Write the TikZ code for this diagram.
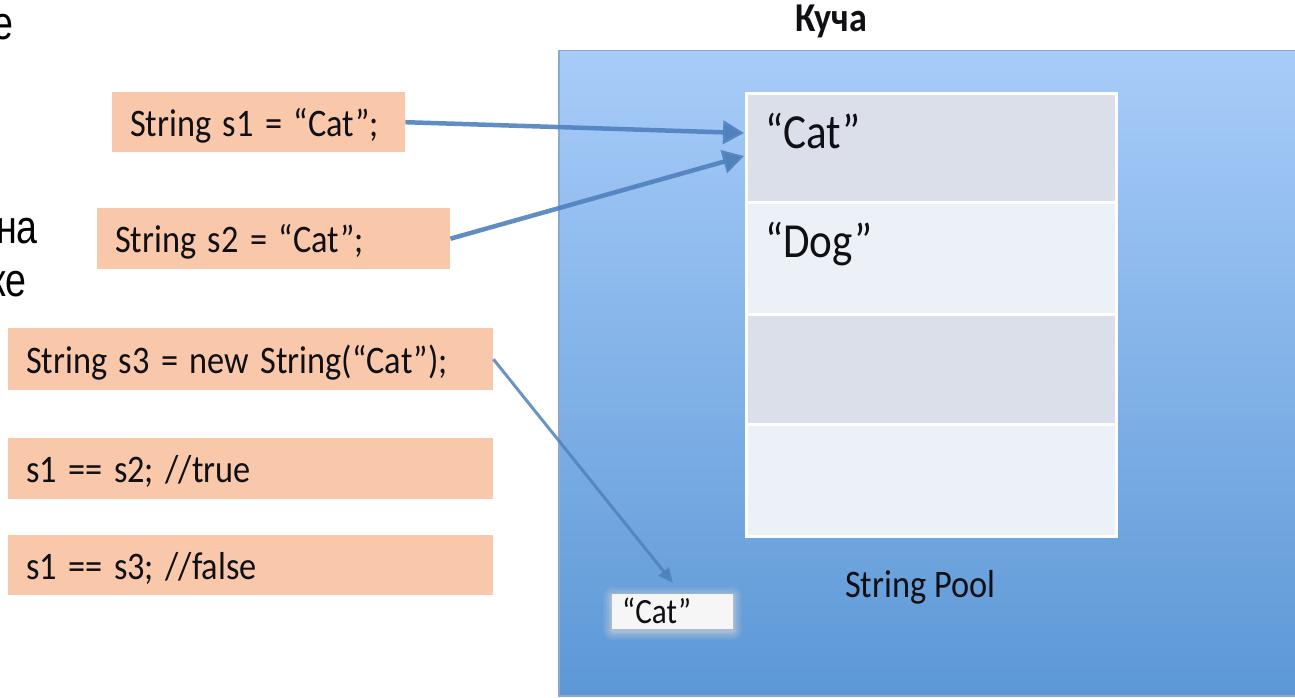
\documentclass[tikz,border=0pt]{standalone}
\usepackage{fontspec}
\setmainfont{Carlito}
\newfontfamily\arialf{Liberation Sans}
\usetikzlibrary{arrows.meta}
\definecolor{peach}{RGB}{249,200,170}
\definecolor{heaptop}{RGB}{168,204,249}
\definecolor{heapbot}{RGB}{92,152,214}
\definecolor{heapedge}{RGB}{140,168,205}
\definecolor{rowdark}{RGB}{218,223,234}
\definecolor{rowlight}{RGB}{236,240,247}
\definecolor{arrowblue}{RGB}{79,129,189}
\definecolor{smallbox}{RGB}{246,246,246}
\definecolor{glowgray}{RGB}{200,205,212}
\definecolor{inktext}{RGB}{15,15,20}
\newcommand\sq[1]{\scalebox{0.88}[1]{#1}}
\newcommand\sqf[1]{\scalebox{0.8}[1]{#1}}
\begin{document}
\begin{tikzpicture}[x=1pt,y=-1pt,
  codebox/.style={fill=peach, anchor=north west, inner xsep=18pt, inner ysep=0pt,
    align=left, text depth=0pt, text height=28pt, text=inktext,
    font=\fontsize{39}{44}\selectfont},
  poolrow/.style={draw=white, line width=3pt, anchor=north west, minimum width=370pt, inner sep=0pt},
  pooltext/.style={anchor=base west, inner sep=0pt, text=inktext, font=\fontsize{49}{54}\selectfont},
  fragment/.style={anchor=base east, inner sep=0pt, font=\arialf\fontsize{47}{55}\selectfont},
  arrowA/.style={draw=arrowblue, line width=4.5pt, draw opacity=0.9, -{Triangle[width=23pt,length=21pt]}},
  arrowB/.style={draw=arrowblue, line width=3pt, draw opacity=0.85, -{Triangle[width=13pt,length=15pt]}}
]
\useasboundingbox (0,0) rectangle (1295,698);
\clip (0,0) rectangle (1295,698);

% cut-off text at the left edge
\node[fragment] (f1) at (14,40) {\sqf{е}};
\node[fragment] (f2) at (38,243) {\sqf{на}};
\node[fragment] (f3) at (27,296) {\sqf{ке}};

% heap
\node[anchor=north west, minimum width=760pt, minimum height=645pt, inner sep=0pt,
      top color=heaptop, bottom color=heapbot, draw=heapedge, line width=1.5pt] (heap) at (558,50) {};
\node[anchor=base, inner sep=0pt, text=inktext, font=\fontsize{41}{45}\selectfont\bfseries] (kucha) at (831,32) {\sq{Куча}};

% string pool
\node[poolrow, fill=rowdark,  minimum height=109pt] (row1) at (745,92) {};
\node[poolrow, fill=rowlight, minimum height=112pt] (row2) at (745,201) {};
\node[poolrow, fill=rowdark,  minimum height=110pt] (row3) at (745,313) {};
\node[poolrow, fill=rowlight, minimum height=112pt] (row4) at (745,423) {};
\node[pooltext] (cat) at (765,148) {\sq{“Cat”}};
\node[pooltext] (dog) at (765,257) {\sq{“Dog”}};
\node[anchor=base west, inner sep=0pt, text=inktext, font=\fontsize{39}{44}\selectfont] (pool) at (845,597) {\sq{String Pool}};

% soft blurred edge of the object outside the pool
\foreach \g/\o in {9/0.10,7/0.14,5/0.18,3/0.25,1.5/0.35}
  \fill[glowgray, fill opacity=\o, rounded corners=\g pt] (612-\g,594-\g+2) rectangle (733+\g,629+\g+2);
\node[anchor=north west, fill=smallbox, minimum width=121pt, minimum height=35pt, inner xsep=10pt, inner ysep=0pt,
      text width=101pt, align=left, text depth=0pt, text height=24pt, text=inktext,
      font=\fontsize{35.5}{40}\selectfont] (cat3) at (612,594) {\sq{“Cat”}};

% code boxes
\node[codebox, minimum height=60pt, text width=257pt] (s1) at (112,92) {\sq{String s1 = “Cat”;}};
\node[codebox, minimum height=61pt, text width=317pt] (s2) at (97,208) {\sq{String s2 = “Cat”;}};
\node[codebox, minimum height=62pt, text width=449pt] (s3) at (8,328) {\sq{String s3 = new String(“Cat”);}};
\node[codebox, minimum height=61pt, text width=449pt] (c12) at (8,438) {\sq{s1 == s2; //true}};
\node[codebox, minimum height=60pt, text width=449pt] (c13) at (8,535) {\sq{s1 == s3; //false}};

% arrows
\coordinate (t1) at (744,133);
\coordinate (t2) at (744,156);
\coordinate (t3) at (673,583);
\draw[arrowA] (s1.east) -- (t1);
\draw[arrowA] (s2.east) -- (t2);
\draw[arrowB] (s3.east) -- (t3);
\end{tikzpicture}
\end{document}
